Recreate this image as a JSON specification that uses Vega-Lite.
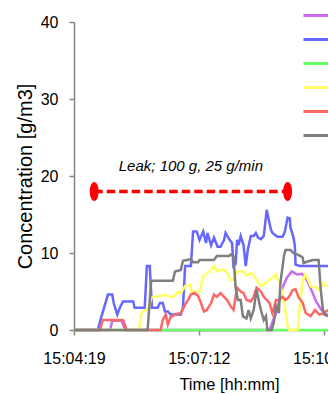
{
  "$schema": "https://vega.github.io/schema/vega-lite/v6.json",
  "autosize": "none",
  "padding": {"left": 74, "top": 22, "right": 0, "bottom": 64},
  "width": 254,
  "height": 308,
  "config": {
    "font": "Liberation Sans",
    "view": {"stroke": null},
    "axis": {
      "grid": false,
      "domainColor": "#868686",
      "domainWidth": 1.5,
      "tickColor": "#868686",
      "tickWidth": 1.5,
      "tickSize": 5,
      "labelFont": "Liberation Sans",
      "labelFontSize": 16,
      "labelColor": "#000000",
      "titleFont": "Liberation Sans",
      "titleFontWeight": "normal",
      "titleColor": "#000000"
    },
    "legend": {
      "symbolType": "stroke",
      "symbolSize": 676,
      "symbolStrokeWidth": 3,
      "labelFontSize": 16,
      "labelColor": "#000000",
      "padding": 0
    }
  },
  "datasets": {
    "series": [
      {"sensor": "S1", "t": 0, "c": 0}, {"sensor": "S1", "t": 50, "c": 0}, {"sensor": "S1", "t": 53, "c": 1.2}, {"sensor": "S1", "t": 66, "c": 1.2}, {"sensor": "S1", "t": 71, "c": 0}, {"sensor": "S1", "t": 271, "c": 0}, {"sensor": "S1", "t": 275, "c": 1.0}, {"sensor": "S1", "t": 280, "c": 2.2}, {"sensor": "S1", "t": 285, "c": 4.0}, {"sensor": "S1", "t": 289, "c": 5.5}, {"sensor": "S1", "t": 295, "c": 6.8}, {"sensor": "S1", "t": 302, "c": 7.6}, {"sensor": "S1", "t": 309, "c": 7.2}, {"sensor": "S1", "t": 316, "c": 7.3}, {"sensor": "S1", "t": 322, "c": 6.6}, {"sensor": "S1", "t": 329, "c": 5.2}, {"sensor": "S1", "t": 336, "c": 3.6}, {"sensor": "S1", "t": 343, "c": 2.6}, {"sensor": "S1", "t": 350, "c": 2.0}, {"sensor": "S1", "t": 352, "c": 2.0},
      {"sensor": "S2", "t": 0, "c": 0}, {"sensor": "S2", "t": 33, "c": 0}, {"sensor": "S2", "t": 36, "c": 1.1}, {"sensor": "S2", "t": 42, "c": 3.0}, {"sensor": "S2", "t": 47, "c": 4.6}, {"sensor": "S2", "t": 53, "c": 4.6}, {"sensor": "S2", "t": 55, "c": 3.5}, {"sensor": "S2", "t": 60, "c": 2.0}, {"sensor": "S2", "t": 64, "c": 3.0}, {"sensor": "S2", "t": 68, "c": 3.7}, {"sensor": "S2", "t": 82, "c": 3.7}, {"sensor": "S2", "t": 84, "c": 2.9}, {"sensor": "S2", "t": 98, "c": 2.9}, {"sensor": "S2", "t": 101, "c": 8.3}, {"sensor": "S2", "t": 105, "c": 8.3}, {"sensor": "S2", "t": 108, "c": 2.9}, {"sensor": "S2", "t": 116, "c": 2.9}, {"sensor": "S2", "t": 119, "c": 3.5}, {"sensor": "S2", "t": 123, "c": 3.5}, {"sensor": "S2", "t": 126, "c": 2.4}, {"sensor": "S2", "t": 130, "c": 2.4}, {"sensor": "S2", "t": 134, "c": 2.0}, {"sensor": "S2", "t": 148, "c": 2.0}, {"sensor": "S2", "t": 151, "c": 2.9}, {"sensor": "S2", "t": 154, "c": 8.3}, {"sensor": "S2", "t": 162, "c": 8.3}, {"sensor": "S2", "t": 165, "c": 12.8}, {"sensor": "S2", "t": 170, "c": 12.8}, {"sensor": "S2", "t": 174, "c": 11.7}, {"sensor": "S2", "t": 179, "c": 12.8}, {"sensor": "S2", "t": 183, "c": 11.3}, {"sensor": "S2", "t": 185, "c": 12.6}, {"sensor": "S2", "t": 190, "c": 11.0}, {"sensor": "S2", "t": 194, "c": 12.0}, {"sensor": "S2", "t": 199, "c": 10.8}, {"sensor": "S2", "t": 203, "c": 10.8}, {"sensor": "S2", "t": 208, "c": 11.7}, {"sensor": "S2", "t": 210, "c": 12.6}, {"sensor": "S2", "t": 215, "c": 11.8}, {"sensor": "S2", "t": 219, "c": 11.3}, {"sensor": "S2", "t": 221, "c": 8.3}, {"sensor": "S2", "t": 224, "c": 8.6}, {"sensor": "S2", "t": 226, "c": 11.7}, {"sensor": "S2", "t": 228, "c": 11.0}, {"sensor": "S2", "t": 231, "c": 12.2}, {"sensor": "S2", "t": 235, "c": 11.0}, {"sensor": "S2", "t": 238, "c": 8.3}, {"sensor": "S2", "t": 241, "c": 10.5}, {"sensor": "S2", "t": 245, "c": 12.2}, {"sensor": "S2", "t": 249, "c": 12.2}, {"sensor": "S2", "t": 252, "c": 12.6}, {"sensor": "S2", "t": 255, "c": 12.0}, {"sensor": "S2", "t": 259, "c": 11.8}, {"sensor": "S2", "t": 263, "c": 12.2}, {"sensor": "S2", "t": 266, "c": 14.7}, {"sensor": "S2", "t": 267, "c": 15.6}, {"sensor": "S2", "t": 270, "c": 14.3}, {"sensor": "S2", "t": 273, "c": 13.0}, {"sensor": "S2", "t": 275, "c": 12.6}, {"sensor": "S2", "t": 282, "c": 12.1}, {"sensor": "S2", "t": 289, "c": 12.1}, {"sensor": "S2", "t": 292, "c": 12.7}, {"sensor": "S2", "t": 296, "c": 14.6}, {"sensor": "S2", "t": 299, "c": 14.5}, {"sensor": "S2", "t": 300, "c": 13.3}, {"sensor": "S2", "t": 304, "c": 12.1}, {"sensor": "S2", "t": 306, "c": 11.0}, {"sensor": "S2", "t": 307, "c": 8.5}, {"sensor": "S2", "t": 313, "c": 8.3}, {"sensor": "S2", "t": 352, "c": 8.3},
      {"sensor": "S3", "t": 0, "c": 0}, {"sensor": "S3", "t": 352, "c": 0},
      {"sensor": "S4", "t": 0, "c": 0}, {"sensor": "S4", "t": 90, "c": 0}, {"sensor": "S4", "t": 93, "c": 2.0}, {"sensor": "S4", "t": 96, "c": 2.4}, {"sensor": "S4", "t": 100, "c": 2.6}, {"sensor": "S4", "t": 104, "c": 3.0}, {"sensor": "S4", "t": 107, "c": 4.2}, {"sensor": "S4", "t": 116, "c": 4.4}, {"sensor": "S4", "t": 126, "c": 4.5}, {"sensor": "S4", "t": 133, "c": 4.4}, {"sensor": "S4", "t": 137, "c": 4.2}, {"sensor": "S4", "t": 144, "c": 5.0}, {"sensor": "S4", "t": 148, "c": 4.8}, {"sensor": "S4", "t": 154, "c": 5.7}, {"sensor": "S4", "t": 158, "c": 5.8}, {"sensor": "S4", "t": 161, "c": 5.9}, {"sensor": "S4", "t": 163, "c": 5.0}, {"sensor": "S4", "t": 174, "c": 5.0}, {"sensor": "S4", "t": 179, "c": 7.0}, {"sensor": "S4", "t": 181, "c": 7.0}, {"sensor": "S4", "t": 184, "c": 7.4}, {"sensor": "S4", "t": 188, "c": 7.6}, {"sensor": "S4", "t": 194, "c": 8.3}, {"sensor": "S4", "t": 198, "c": 7.6}, {"sensor": "S4", "t": 202, "c": 7.8}, {"sensor": "S4", "t": 209, "c": 7.8}, {"sensor": "S4", "t": 212, "c": 7.4}, {"sensor": "S4", "t": 217, "c": 6.5}, {"sensor": "S4", "t": 221, "c": 6.5}, {"sensor": "S4", "t": 226, "c": 7.6}, {"sensor": "S4", "t": 235, "c": 7.6}, {"sensor": "S4", "t": 239, "c": 7.1}, {"sensor": "S4", "t": 245, "c": 7.4}, {"sensor": "S4", "t": 249, "c": 7.1}, {"sensor": "S4", "t": 253, "c": 6.5}, {"sensor": "S4", "t": 259, "c": 5.7}, {"sensor": "S4", "t": 263, "c": 5.9}, {"sensor": "S4", "t": 266, "c": 6.1}, {"sensor": "S4", "t": 270, "c": 6.5}, {"sensor": "S4", "t": 275, "c": 6.8}, {"sensor": "S4", "t": 280, "c": 7.2}, {"sensor": "S4", "t": 282, "c": 6.6}, {"sensor": "S4", "t": 285, "c": 6.3}, {"sensor": "S4", "t": 289, "c": 4.5}, {"sensor": "S4", "t": 293, "c": 2.5}, {"sensor": "S4", "t": 296, "c": 0.5}, {"sensor": "S4", "t": 298, "c": 0}, {"sensor": "S4", "t": 310, "c": 0}, {"sensor": "S4", "t": 313, "c": 3.0}, {"sensor": "S4", "t": 316, "c": 6.0}, {"sensor": "S4", "t": 320, "c": 7.2}, {"sensor": "S4", "t": 324, "c": 6.6}, {"sensor": "S4", "t": 328, "c": 5.7}, {"sensor": "S4", "t": 335, "c": 5.5}, {"sensor": "S4", "t": 339, "c": 5.3}, {"sensor": "S4", "t": 345, "c": 6.1}, {"sensor": "S4", "t": 349, "c": 5.7}, {"sensor": "S4", "t": 352, "c": 5.8},
      {"sensor": "S5", "t": 0, "c": 0}, {"sensor": "S5", "t": 36, "c": 0}, {"sensor": "S5", "t": 40, "c": 1.3}, {"sensor": "S5", "t": 68, "c": 1.3}, {"sensor": "S5", "t": 73, "c": 0}, {"sensor": "S5", "t": 120, "c": 0}, {"sensor": "S5", "t": 123, "c": 1.3}, {"sensor": "S5", "t": 127, "c": 2.0}, {"sensor": "S5", "t": 130, "c": 0.7}, {"sensor": "S5", "t": 134, "c": 1.7}, {"sensor": "S5", "t": 140, "c": 2.0}, {"sensor": "S5", "t": 148, "c": 2.2}, {"sensor": "S5", "t": 154, "c": 3.3}, {"sensor": "S5", "t": 158, "c": 3.9}, {"sensor": "S5", "t": 162, "c": 4.6}, {"sensor": "S5", "t": 167, "c": 4.8}, {"sensor": "S5", "t": 172, "c": 4.4}, {"sensor": "S5", "t": 176, "c": 3.5}, {"sensor": "S5", "t": 180, "c": 2.4}, {"sensor": "S5", "t": 184, "c": 2.6}, {"sensor": "S5", "t": 190, "c": 3.5}, {"sensor": "S5", "t": 194, "c": 4.6}, {"sensor": "S5", "t": 198, "c": 4.3}, {"sensor": "S5", "t": 203, "c": 4.8}, {"sensor": "S5", "t": 208, "c": 4.3}, {"sensor": "S5", "t": 212, "c": 3.9}, {"sensor": "S5", "t": 217, "c": 3.1}, {"sensor": "S5", "t": 221, "c": 2.6}, {"sensor": "S5", "t": 226, "c": 5.5}, {"sensor": "S5", "t": 231, "c": 5.0}, {"sensor": "S5", "t": 235, "c": 4.8}, {"sensor": "S5", "t": 239, "c": 3.9}, {"sensor": "S5", "t": 245, "c": 3.7}, {"sensor": "S5", "t": 249, "c": 4.3}, {"sensor": "S5", "t": 253, "c": 5.5}, {"sensor": "S5", "t": 259, "c": 5.0}, {"sensor": "S5", "t": 263, "c": 4.3}, {"sensor": "S5", "t": 267, "c": 3.9}, {"sensor": "S5", "t": 271, "c": 3.5}, {"sensor": "S5", "t": 275, "c": 2.2}, {"sensor": "S5", "t": 280, "c": 3.9}, {"sensor": "S5", "t": 284, "c": 3.9}, {"sensor": "S5", "t": 289, "c": 4.3}, {"sensor": "S5", "t": 293, "c": 3.9}, {"sensor": "S5", "t": 298, "c": 4.3}, {"sensor": "S5", "t": 303, "c": 5.2}, {"sensor": "S5", "t": 307, "c": 5.3}, {"sensor": "S5", "t": 311, "c": 4.3}, {"sensor": "S5", "t": 317, "c": 3.5}, {"sensor": "S5", "t": 321, "c": 2.2}, {"sensor": "S5", "t": 328, "c": 1.8}, {"sensor": "S5", "t": 334, "c": 2.6}, {"sensor": "S5", "t": 340, "c": 2.0}, {"sensor": "S5", "t": 346, "c": 2.2}, {"sensor": "S5", "t": 352, "c": 2.6},
      {"sensor": "S6", "t": 0, "c": 0}, {"sensor": "S6", "t": 102, "c": 0}, {"sensor": "S6", "t": 107, "c": 6.4}, {"sensor": "S6", "t": 137, "c": 6.4}, {"sensor": "S6", "t": 140, "c": 7.6}, {"sensor": "S6", "t": 148, "c": 7.8}, {"sensor": "S6", "t": 151, "c": 9.0}, {"sensor": "S6", "t": 162, "c": 9.2}, {"sensor": "S6", "t": 165, "c": 8.8}, {"sensor": "S6", "t": 172, "c": 8.8}, {"sensor": "S6", "t": 174, "c": 9.1}, {"sensor": "S6", "t": 194, "c": 9.1}, {"sensor": "S6", "t": 198, "c": 9.6}, {"sensor": "S6", "t": 215, "c": 9.6}, {"sensor": "S6", "t": 217, "c": 9.8}, {"sensor": "S6", "t": 221, "c": 9.6}, {"sensor": "S6", "t": 224, "c": 5.5}, {"sensor": "S6", "t": 227, "c": 3.9}, {"sensor": "S6", "t": 231, "c": 3.9}, {"sensor": "S6", "t": 234, "c": 1.8}, {"sensor": "S6", "t": 239, "c": 1.5}, {"sensor": "S6", "t": 242, "c": 2.6}, {"sensor": "S6", "t": 245, "c": 1.5}, {"sensor": "S6", "t": 249, "c": 2.6}, {"sensor": "S6", "t": 253, "c": 5.2}, {"sensor": "S6", "t": 256, "c": 3.9}, {"sensor": "S6", "t": 259, "c": 2.6}, {"sensor": "S6", "t": 263, "c": 1.3}, {"sensor": "S6", "t": 266, "c": 1.8}, {"sensor": "S6", "t": 268, "c": 0}, {"sensor": "S6", "t": 274, "c": 0}, {"sensor": "S6", "t": 277, "c": 1.0}, {"sensor": "S6", "t": 280, "c": 3.1}, {"sensor": "S6", "t": 284, "c": 2.2}, {"sensor": "S6", "t": 286, "c": 6.1}, {"sensor": "S6", "t": 291, "c": 9.6}, {"sensor": "S6", "t": 293, "c": 10.4}, {"sensor": "S6", "t": 300, "c": 10.4}, {"sensor": "S6", "t": 304, "c": 10.0}, {"sensor": "S6", "t": 310, "c": 9.8}, {"sensor": "S6", "t": 314, "c": 9.6}, {"sensor": "S6", "t": 317, "c": 9.4}, {"sensor": "S6", "t": 318, "c": 8.7}, {"sensor": "S6", "t": 324, "c": 8.9}, {"sensor": "S6", "t": 331, "c": 9.1}, {"sensor": "S6", "t": 339, "c": 9.1}, {"sensor": "S6", "t": 342, "c": 5.2}, {"sensor": "S6", "t": 345, "c": 2.6}, {"sensor": "S6", "t": 347, "c": 2.0}, {"sensor": "S6", "t": 352, "c": 1.8}
    ],
    "leak": [
      {"t": 28, "c": 18}, {"t": 296, "c": 18}
    ],
    "note": [
      {"t": 162, "c": 20.6, "label": "Leak; 100 g, 25 g/min"}
    ]
  },
  "layer": [
    {
      "data": {"name": "series"},
      "mark": {"type": "line", "strokeWidth": 2.5, "interpolate": "linear"},
      "encoding": {
        "x": {
          "field": "t", "type": "quantitative",
          "scale": {"domain": [0, 352], "nice": false, "zero": false},
          "axis": {
            "values": [0, 173, 346],
            "labelExpr": "timeFormat(datetime(2000, 0, 1, 15, 4, 19 + datum.value), '%H:%M:%S')",
            "labelPadding": 15,
            "labelFlush": false,
            "labelOverlap": false,
            "title": "Time [hh:mm]",
            "titleFontSize": 16.5,
            "titleX": 155,
            "titleY": 59,
            "titleAlign": "center",
            "titleBaseline": "alphabetic",
            "titleAnchor": null
          }
        },
        "y": {
          "field": "c", "type": "quantitative",
          "scale": {"domain": [0, 40], "nice": false},
          "axis": {
            "values": [0, 10, 20, 30, 40],
            "labelPadding": 11,
            "title": "Concentration [g/m3]",
            "titleFontSize": 20,
            "titleX": -43,
            "titleY": 154,
            "titleAngle": 270,
            "titleAlign": "center",
            "titleBaseline": "alphabetic",
            "titleAnchor": null
          }
        },
        "color": {
          "field": "sensor", "type": "nominal",
          "scale": {
            "domain": ["S1", "S2", "S3", "S4", "S5", "S6"],
            "range": ["#C86CF2", "#6767FF", "#66FF66", "#FFFF66", "#FF6666", "#7F7F7F"]
          },
          "legend": {
            "orient": "none",
            "legendX": 228,
            "legendY": -21,
            "title": null,
            "rowPadding": 1
          }
        }
      }
    },
    {
      "data": {"name": "leak"},
      "mark": {"type": "line", "color": "#FF0000", "strokeWidth": 3.5, "strokeDash": [8.5, 4]},
      "encoding": {
        "x": {"field": "t", "type": "quantitative"},
        "y": {"field": "c", "type": "quantitative"}
      }
    },
    {
      "data": {"name": "leak"},
      "mark": {"type": "point", "filled": true, "opacity": 1, "color": "#FF0000", "size": 361, "shape": "M0,-1A0.47,1 0 1,1 0,1A0.47,1 0 1,1 0,-1Z"},
      "encoding": {
        "x": {"field": "t", "type": "quantitative"},
        "y": {"field": "c", "type": "quantitative"}
      }
    },
    {
      "data": {"name": "note"},
      "mark": {"type": "text", "fontStyle": "italic", "fontSize": 15, "font": "Liberation Sans", "align": "center", "baseline": "alphabetic", "color": "#000000"},
      "encoding": {
        "x": {"field": "t", "type": "quantitative"},
        "y": {"field": "c", "type": "quantitative"},
        "text": {"field": "label"}
      }
    }
  ]
}
